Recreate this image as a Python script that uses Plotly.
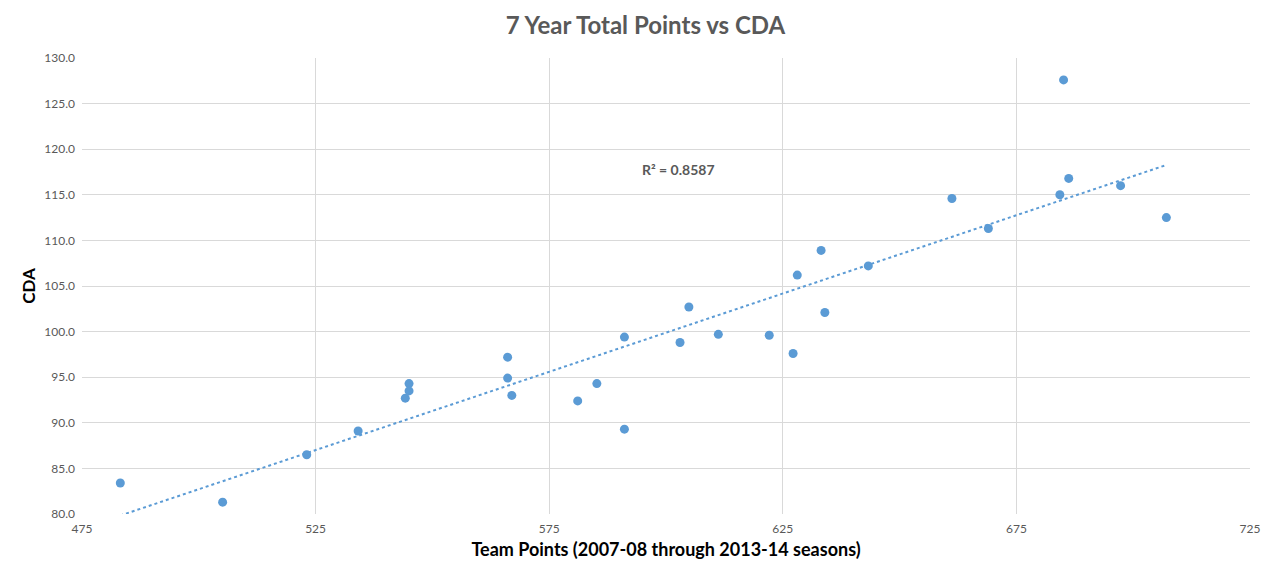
import numpy as np
import plotly.graph_objects as go

# team points over 7 seasons vs CDA
team_points = [483.2, 505.1, 523.1, 534.1, 544.2, 545.0, 545.0, 566.1, 566.1, 567.0,
               581.1, 585.2, 591.1, 591.1, 603.0, 604.9, 611.2, 622.1, 627.2, 634.0,
               628.1, 633.2, 643.3, 661.2, 669.0, 684.3, 685.1, 686.2, 697.3, 707.1]
cda = [83.4, 81.3, 86.5, 89.1, 92.7, 93.5, 94.3, 97.2, 94.9, 93.0,
       92.4, 94.3, 99.4, 89.3, 98.8, 102.7, 99.7, 99.6, 97.6, 102.1,
       106.2, 108.9, 107.2, 114.6, 111.3, 115.0, 127.6, 116.8, 116.0, 112.5]
r2_text = "R² = 0.8587"
x_ticks = [475, 525, 575, 625, 675, 725]
y_ticks = [80, 85, 90, 95, 100, 105, 110, 115, 120, 125, 130]

blue = "#5b9bd5"
grey = "#595959"

# linear trendline over the data range
slope, icpt = np.polyfit(team_points, cda, 1)
tx = [min(team_points), max(team_points)]
ty = [slope * v + icpt for v in tx]

fig = go.Figure()
fig.add_trace(go.Scatter(x=tx, y=ty, mode="lines",
                         line=dict(color=blue, width=2, dash="dot"),
                         hoverinfo="skip", showlegend=False))
fig.add_trace(go.Scatter(x=team_points, y=cda, mode="markers",
                         marker=dict(color=blue, size=9),
                         showlegend=False))

fig.add_annotation(text="<b>" + r2_text + "</b>", x=0.478, y=0.755,
                   xref="paper", yref="paper", xanchor="left", yanchor="middle",
                   showarrow=False, font=dict(size=14, color=grey))

fig.update_layout(
    width=1275, height=580,
    margin=dict(l=74, r=33, t=50, b=74),
    paper_bgcolor="white", plot_bgcolor="white",
    font=dict(family="Lato, 'Open Sans', sans-serif", color=grey),
    title=dict(text="<b>7 Year Total Points vs CDA</b>", x=0.5, xanchor="center",
               y=0.969, yanchor="middle", font=dict(size=24, color=grey)),
    xaxis=dict(range=[475, 725], tickvals=x_ticks, showgrid=True, gridcolor="#d9d9d9",
               zeroline=False, showline=False, ticklabelstandoff=6,
               tickfont=dict(size=12, color=grey),
               title=dict(text="<b>Team Points (2007-08 through 2013-14 seasons)</b>",
                          font=dict(size=18, color="black"), standoff=8)),
    yaxis=dict(range=[80, 130], tickvals=y_ticks, tickformat=".1f", showgrid=True,
               gridcolor="#d9d9d9", zeroline=False, showline=False,
               ticklabelstandoff=6,
               tickfont=dict(size=12, color=grey),
               title=dict(text="<b>CDA</b>", font=dict(size=17, color="black"), standoff=4)),
)

fig.write_html("out.html")
